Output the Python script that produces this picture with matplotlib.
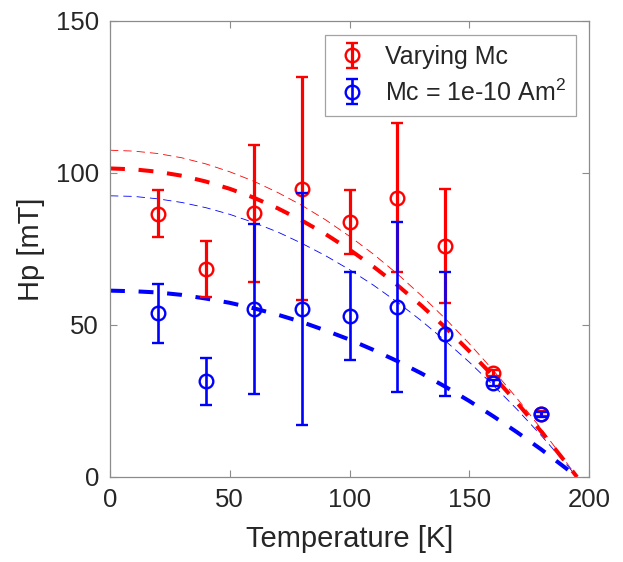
import matplotlib
matplotlib.use('Agg')
import matplotlib.pyplot as plt

# ---- data ----
T_pts = [20, 40, 60, 80, 100, 120, 140, 160, 180]
hp_vary = [86.6, 68.4, 86.8, 94.8, 83.9, 91.9, 76.0, 34.1, 20.8]
err_vary = [7.7, 9.1, 22.5, 36.7, 10.4, 24.6, 18.9, 1.0, 0.8]
hp_fixed = [53.8, 31.5, 55.3, 55.2, 53.0, 56.0, 47.0, 31.0, 20.6]
err_fixed = [9.6, 7.7, 28.0, 38.2, 14.4, 27.9, 20.4, 1.0, 0.8]

T_fit = [0, 10, 20, 30, 40, 50, 60, 70, 80, 90, 100, 110, 120, 130, 140,
         150, 160, 170, 180, 190, 195]
fit_vary = [101.5, 101.2, 100.4, 99.1, 97.2, 94.8, 91.9, 88.4, 84.4, 79.9,
            74.8, 69.2, 63.1, 56.4, 49.2, 41.4, 33.2, 24.4, 15.0, 5.1, 0.0]
fit_vary_thin = [107.5, 107.2, 106.4, 105.0, 103.0, 100.4, 97.3, 93.6, 89.4,
                 84.6, 79.2, 73.3, 66.8, 59.7, 52.1, 43.9, 35.1, 25.8, 15.9,
                 5.4, 0.0]
fit_fixed = [61.3, 61.1, 60.7, 59.9, 58.7, 57.3, 55.5, 53.4, 51.0, 48.2,
             45.2, 41.8, 38.1, 34.1, 29.7, 25.0, 20.0, 14.7, 9.1, 3.1, 0.0]
fit_fixed_thin = [92.5, 92.3, 91.5, 90.3, 88.6, 86.4, 83.7, 80.6, 76.9, 72.8,
                  68.2, 63.1, 57.5, 51.4, 44.8, 37.8, 30.2, 22.2, 13.7, 4.7,
                  0.0]

labels = ['Varying Mc', 'Mc = 1e-10 Am$^2$']
x_ticks = [0, 50, 100, 150, 200]
y_ticks = [0, 50, 100, 150]

plt.rcParams['font.family'] = ['Liberation Sans', 'DejaVu Sans']
plt.rcParams['mathtext.fontset'] = 'custom'
plt.rcParams['mathtext.rm'] = 'Liberation Sans'

txt = '#262626'
spine = '#8c8c8c'

fig = plt.figure(figsize=(6.23, 5.62), dpi=100)
ax = fig.add_axes([110/623, 85/562, 479/623, 456/562])

# fit curves
ax.plot(T_fit, fit_vary_thin, color='red', lw=0.6, ls=(0, (10, 6)), zorder=2)
ax.plot(T_fit, fit_fixed_thin, color='blue', lw=0.6, ls=(0, (10, 6)), zorder=2)
ax.plot(T_fit, fit_vary, color='red', lw=2.9, ls=(0, (3.7, 3.4)), zorder=2)
ax.plot(T_fit, fit_fixed, color='blue', lw=2.9, ls=(0, (3.7, 3.4)), zorder=2)

# error bars
ax.errorbar(T_pts, hp_vary, yerr=err_vary, fmt='o', color='red',
            mfc='none', mec='red', ms=9.8, mew=1.7, elinewidth=2.3,
            capsize=4.5, capthick=2.3, label=labels[0], zorder=3)
ax.errorbar(T_pts, hp_fixed, yerr=err_fixed, fmt='o', color='blue',
            mfc='none', mec='blue', ms=9.8, mew=1.7, elinewidth=1.9,
            capsize=4.5, capthick=1.9, label=labels[1], zorder=4)

ax.set_xlim(0, 200)
ax.set_ylim(0, 150)
ax.set_xticks(x_ticks)
ax.set_yticks(y_ticks)
ax.tick_params(direction='in', length=5, width=0.8, color=spine,
               labelcolor=txt, labelsize=18.5, top=True, right=True, pad=8)
for s in ax.spines.values():
    s.set_color(spine)
    s.set_linewidth(0.9)

ax.set_xlabel('Temperature [K]', fontsize=21, color=txt, labelpad=9)
ax.set_ylabel('Hp [mT]', fontsize=21, color=txt, labelpad=8)

leg = ax.legend(loc='upper right', bbox_to_anchor=(0.973, 0.969),
                borderaxespad=0, fontsize=18, frameon=True, fancybox=False,
                handlelength=1.4, handletextpad=0.6, borderpad=0.4,
                labelspacing=0.4, edgecolor=spine)
leg.get_frame().set_linewidth(0.9)
for t in leg.get_texts():
    t.set_color(txt)

fig.savefig('out.png', dpi=100)
